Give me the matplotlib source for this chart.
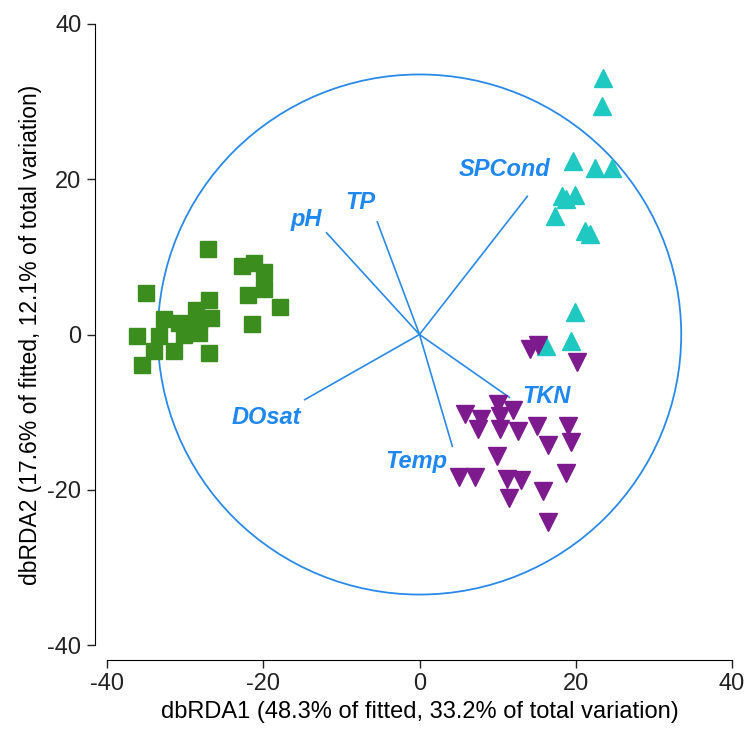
import matplotlib
matplotlib.use("Agg")
import numpy as np
import matplotlib.pyplot as plt
from matplotlib.patches import Circle

plt.rcParams["font.family"] = ["Liberation Sans", "DejaVu Sans"]
plt.rcParams["axes.unicode_minus"] = False

# site scores, three groups
sq_x = [-27.1, -35.0, -22.7, -21.2, -19.9, -22.0, -19.9, -17.9, -21.4, -26.9,
        -28.6, -26.7, -32.7, -30.8, -28.2, -36.1, -33.3, -30.1, -31.4, -34.0,
        -26.9, -35.5, -29.5, -28.2]
sq_y = [11.0, 5.4, 8.8, 9.2, 8.1, 5.1, 5.8, 3.6, 1.4, 4.5,
        3.2, 2.1, 2.0, 1.5, 0.2, -0.2, -0.2, 0.0, -2.1, -2.1,
        -2.4, -3.9, 1.1, 1.9]

up_x = [23.5, 23.4, 19.7, 22.4, 24.6, 18.2, 19.9, 18.8, 17.3, 21.2, 21.8,
        19.9, 19.4, 16.2]
up_y = [33.0, 29.5, 22.3, 21.5, 21.5, 17.8, 18.0, 17.4, 15.3, 13.3, 12.9,
        2.9, -0.9, -1.5]

dn_x = [14.1, 15.2, 20.1, 10.0, 12.0, 5.8, 7.9, 10.3, 7.5, 10.3, 12.6, 15.0,
        19.0, 16.4, 19.4, 9.9, 18.8, 5.1, 7.1, 11.2, 13.0, 15.8, 11.4, 16.4]
dn_y = [-1.9, -1.3, -3.6, -9.0, -9.7, -10.3, -10.9, -10.5, -12.2, -12.2, -12.4, -11.8,
        -11.8, -14.2, -13.9, -15.6, -17.8, -18.4, -18.4, -18.6, -18.7, -20.2, -21.1, -24.2]

# environmental vectors (end points) and label positions
vec_names = ["SPCond", "pH", "TP", "TKN", "Temp", "DOsat"]
vec_x = [13.8, -11.9, -5.4, 11.5, 4.2, -14.7]
vec_y = [17.8, 13.1, 14.5, -8.1, -14.4, -8.4]
lab_x = [10.9, -14.5, -7.6, 16.3, -0.4, -19.6]
lab_y = [21.2, 14.8, 17.0, -8.0, -16.3, -10.7]
circle_r = 33.5

BLUE = "#1e88f0"

fig = plt.figure(figsize=(7.46, 7.29), dpi=100)
ax = fig.add_axes([107 / 746, 84 / 729, 625 / 746, 621 / 729])

ax.add_patch(Circle((0, 0), circle_r, fill=False, ec="#2b8ae8", lw=1.3, zorder=1))
for ex, ey in zip(vec_x, vec_y):
    ax.plot([0, ex], [0, ey], color="#2b8ae8", lw=1.2, zorder=2)

ax.plot(sq_x, sq_y, "s", ms=11.5, color="#3b8e1e", mec="#3b8e1e", zorder=3)
ax.plot(up_x, up_y, "^", ms=13.5, color="#1fc8c0", mec="#1fc8c0", zorder=3)
ax.plot(dn_x, dn_y, "v", ms=13.5, color="#7d1a8e", mec="#7d1a8e", zorder=3)

for name, tx, ty in zip(vec_names, lab_x, lab_y):
    ax.text(tx, ty, name, color=BLUE, fontsize=17, fontweight="bold",
            fontstyle="italic", ha="center", va="center", zorder=4)

ax.set_xlim(-40, 40)
ax.set_ylim(-40, 40)
ax.set_xticks([-40, -20, 0, 20, 40])
ax.set_yticks([-40, -20, 0, 20, 40])
for s in ("top", "right"):
    ax.spines[s].set_visible(False)
ax.spines["left"].set_position(("outward", 9))
ax.spines["bottom"].set_position(("outward", 11))
ax.spines["left"].set_bounds(-40, 40)
ax.spines["bottom"].set_bounds(-40, 40)
ax.tick_params(direction="out", length=6, width=1, labelsize=17, colors="#222222")
ax.set_xlabel("dbRDA1 (48.3% of fitted, 33.2% of total variation)", fontsize=17, labelpad=4)
ax.set_ylabel("dbRDA2 (17.6% of fitted, 12.1% of total variation)", fontsize=16.5, labelpad=4)

fig.savefig("out.png", dpi=100)
